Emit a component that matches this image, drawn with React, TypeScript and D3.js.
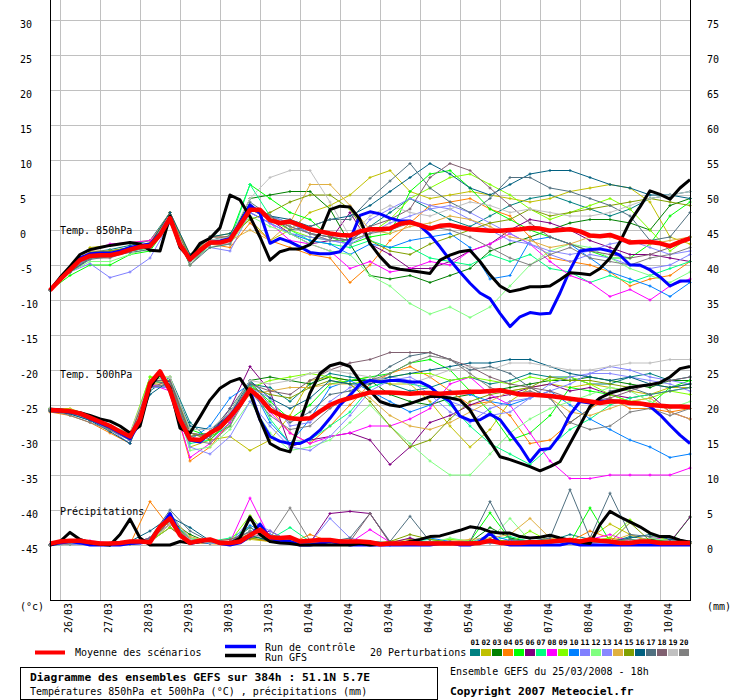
import * as d3 from "d3"

// 6-hourly series from 25/03 18h to +384h (65 values)
const mean850 = [
  -8.6, -7.1, -5.7, -4.3, -3.7, -3.6, -3.6, -3.3, -2.8, -2.4,
  -2.3, -0.7, 1.7, -2.1, -4.2, -2.9, -1.8, -1.8, -1.4, 0.7,
  2.9, 2.9, 1.4, 1.0, 1.2, 0.7, 0.1, -0.2, -0.5, -0.7,
  -0.8, -0.2, 0.1, 0.1, 0.2, 0.9, 1.1, 0.7, 0.2, 0.6,
  0.7, 0.4, 0.1, 0, -0.1, -0.1, 0, 0.1, 0.3, 0.2,
  -0.1, 0, 0.1, -0.2, -0.8, -0.9, -0.7, -1.2, -1.8, -1.7,
  -1.7, -1.9, -2.3, -1.7, -1.2,
]
const ctrl850 = [
  -8.6, -7.0, -5.5, -4.0, -3.4, -3.3, -3.3, -3.0, -2.5, -2.2,
  -2.0, -0.5, 1.8, -2.0, -4.3, -3.0, -1.8, -1.6, -1.2, 1.0,
  3.6, 2.4, -1.9, -1.2, -1.7, -2.4, -3.2, -3.4, -3.4, -3.1,
  -1.4, 2.1, 2.6, 2.3, 1.7, 1.3, 1.3, 0.6, -0.7, -2.4,
  -4.3, -6.0, -7.6, -9.0, -9.8, -11.9, -13.8, -12.4, -11.8, -12.0,
  -11.9, -9.0, -5.7, -3.0, -2.8, -2.7, -3.0, -3.6, -5.0, -5.0,
  -5.7, -6.7, -8.0, -7.3, -7.3,
]
const gfs850 = [
  -8.6, -6.8, -5.2, -3.5, -2.8, -2.5, -2.2, -2.0, -1.8, -2.0,
  -2.9, -3.0, 2.0, -2.5, -4.0, -1.9, -1.2, 0.3, 5.0, 4.3,
  1.9, -1.0, -4.3, -3.1, -2.7, -2.7, -2.1, -0.5, 2.9, 3.4,
  3.3, 1.5, -1.9, -3.8, -5.3, -5.6, -5.8, -6.0, -6.2, -4.3,
  -3.6, -3.1, -2.9, -4.5, -6.4, -8.0, -8.8, -8.5, -8.1, -8.1,
  -8.0, -7.1, -6.1, -6.2, -6.4, -5.5, -4.0, -1.7, 1.2, 3.3,
  5.6, 5.1, 4.4, 6.0, 7.2,
]
const mean500 = [
  -25.7, -25.8, -25.9, -26.2, -26.8, -27.4, -28.0, -28.8, -29.5, -27.1,
  -21.9, -20.2, -22.9, -27.1, -29.9, -30.0, -29.0, -28.2, -26.7, -25.0,
  -22.8, -24.0, -25.7, -26.4, -26.9, -27.0, -26.9, -25.9, -25.0, -24.4,
  -24.0, -23.6, -23.2, -23.2, -23.2, -23.3, -23.4, -23.3, -23.3, -23.4,
  -23.3, -23.2, -23.1, -23.1, -23.0, -22.9, -23.2, -23.5, -23.5, -23.6,
  -23.7, -23.9, -24.1, -24.3, -24.5, -24.7, -24.5, -24.5, -24.7, -24.8,
  -25.0, -25.1, -25.2, -25.2, -25.3,
]
const ctrl500 = [
  -25.8, -25.9, -26.0, -26.3, -26.9, -27.6, -28.2, -29.0, -29.8, -27.5,
  -22.0, -20.5, -23.0, -27.5, -30.0, -30.3, -29.0, -28.0, -26.5, -24.8,
  -22.9, -27.1, -29.5, -30.2, -30.5, -30.5, -29.8, -28.6, -26.9, -25.0,
  -23.6, -22.0, -21.5, -21.7, -21.5, -21.5, -21.7, -21.7, -22.4, -23.6,
  -24.5, -26.6, -27.2, -27.1, -26.3, -27.1, -29.0, -30.9, -33.1, -31.4,
  -31.2, -29.3, -26.4, -24.5, -24.7, -24.5, -24.4, -24.5, -24.7, -24.8,
  -25.2, -26.4, -27.9, -29.3, -30.5,
]
const gfs500 = [
  -25.6, -25.7, -25.9, -26.1, -26.5, -27.0, -27.3, -28.0, -29.0, -28.0,
  -22.5, -20.5, -22.5, -28.3, -29.0, -26.7, -24.3, -22.6, -21.7, -21.2,
  -23.3, -27.1, -30.5, -31.3, -31.7, -27.4, -23.3, -20.5, -19.4, -19.0,
  -19.5, -21.6, -23.0, -24.5, -25.0, -25.2, -24.8, -24.3, -23.8, -23.8,
  -24.0, -24.3, -25.7, -28.1, -30.2, -32.4, -32.8, -33.3, -33.8, -34.4,
  -33.8, -33.1, -30.5, -27.9, -25.2, -24.0, -23.3, -22.9, -22.5, -22.3,
  -22.1, -21.8, -21.0, -19.8, -19.5,
]
const meanPrecip = [
  0.2, 0.5, 0.6, 0.6, 0.4, 0.2, 0.2, 0.3, 0.5, 0.5,
  0.4, 2.6, 3.8, 1.4, 0.3, 0.6, 0.8, 0.3, 0.3, 0.5,
  1.4, 2.2, 1.1, 1.0, 1.1, 0.5, 0.6, 0.7, 0.7, 0.5,
  0.5, 0.5, 0.4, 0.1, 0.2, 0.2, 0.3, 0.2, 0.2, 0.2,
  0.2, 0.2, 0.2, 0.3, 0.6, 0.3, 0.3, 0.3, 0.4, 0.4,
  0.5, 0.6, 0.7, 0.5, 0.8, 0.6, 0.5, 0.3, 0.3, 0.5,
  0.5, 0.3, 0.3, 0.3, 0.3,
]
const ctrlPrecip = [
  0, 0.3, 0.5, 0.3, 0, 0, 0, 0, 0.2, 0.3,
  0.5, 2.5, 4.5, 1.5, 0.2, 0.5, 0.8, 0.2, 0, 0.3,
  1.2, 3.0, 1.0, 0.5, 0.5, 0, 0, 0.2, 0.5, 0.3,
  0, 0, 0, 0, 0, 0, 0, 0, 0, 0.2,
  0.3, 0, 0, 0.5, 1.7, 0.3, 0, 0, 0, 0,
  0, 0, 0.3, 0, 0, 0, 0, 0, 0, 0,
  0, 0, 0, 0, 0,
]
const gfsPrecip = [
  0, 0.5, 1.8, 0.8, 0.3, 0.1, 0, 1.5, 3.7, 1.0,
  0, 0, 0, 0.5, 0.3, 0.5, 0.8, 0.3, 0.2, 1.0,
  4.0, 1.5, 0.5, 0.3, 0.2, 0, 0, 0, 0, 0,
  0, 0.2, 0, 0.1, 0.2, 0.2, 0.5, 0.8, 1.2, 1.3,
  1.7, 2.1, 2.6, 2.4, 1.9, 1.7, 1.7, 1.2, 1.0, 1.1,
  1.4, 1.0, 0.7, 0.4, 0.2, 2.9, 4.8, 4.0, 3.3, 2.6,
  1.7, 1.2, 1.2, 0.7, 0.4,
]

// 12-hourly perturbation members 01..20 (33 values each)
const members850 = [
  [-8.6, -5.5, -3.2, -2.8, -2.2, -1.5, 2.5, -3.8, -1.5, -0.8, 3.5, 2.0, 1.0, -0.5, -1.0, -1.5, 0.5, 2.5, 4.5, 3.0, 1.5, 0.5, 2.0, 3.5, 4.5, 5.0, 4.0, 3.0, 2.0, 3.0, 4.5, 5.0, 5.5],
  [-8.6, -5.8, -2.5, -2.2, -1.8, -1.5, 2.0, -3.5, -1.0, -0.5, 1.5, -1.5, 0, 2.5, 3.5, 5.0, 7.5, 8.5, 5.5, 4.5, 5.0, 5.5, 5.0, 4.5, 4.0, 4.5, 5.5, 6.0, 6.5, 6.0, 4.0, -1.0, -2.0],
  [-8.6, -6.0, -4.0, -3.8, -3.0, -2.5, 1.5, -4.0, -1.5, -1.5, 4.5, 5.0, 5.5, 5.5, 3.0, -2.0, -6.5, -7.0, -6.5, -7.5, -6.5, -5.5, -3.0, -2.0, -1.0, 0, 1.0, 1.5, 1.5, 1.0, 0, 3.5, 4.5],
  [-8.6, -5.5, -3.5, -3.5, -2.5, -2.0, 2.5, -4.5, -2.0, -2.5, 1.0, -1.5, -2.5, -3.5, -4.0, -7.5, -5.0, -1.5, 1.0, 3.5, 4.0, 4.5, 3.0, 2.0, -1.0, -4.0, -4.5, -5.0, -6.0, -8.0, -7.0, -6.5, -4.5],
  [-8.6, -6.5, -5.0, -5.0, -3.5, -3.0, 1.0, -5.0, -2.0, -1.0, 6.5, 4.5, 2.5, 1.5, -1.0, -2.0, -1.0, -0.5, 5.5, 8.0, 8.5, 6.0, 3.0, 1.5, 0, -1.0, -2.0, -3.0, -4.0, -4.0, -2.0, 2.0, 4.0],
  [-8.6, -5.8, -3.6, -3.8, -2.8, -2.5, 1.5, -4.5, -2.0, -1.0, 3.0, 1.5, -0.5, -2.0, -1.5, 2.5, -2.0, -3.5, -5.5, -5.5, -4.5, -3.0, -2.0, 0, 1.5, 1.0, 0, -1.5, -2.5, -3.5, -3.5, -4.0, -4.5],
  [-8.6, -5.8, -4.0, -3.5, -3.0, -2.5, 2.0, -4.0, -2.0, -1.5, 6.5, 2.0, 0, -1.5, -2.0, -2.5, -1.5, -2.5, -2.5, -4.0, -4.5, -5.0, -3.5, -4.5, -3.5, -5.5, -6.0, -7.5, -6.5, -7.5, -6.5, -5.5, -4.5],
  [-8.6, -5.5, -3.0, -2.0, -1.8, -1.5, 2.0, -4.0, -1.0, -1.0, 2.5, 1.0, -1.5, -2.0, -3.0, -5.5, -4.5, -6.0, -5.5, -4.5, -5.0, -3.0, -2.0, -0.5, -2.0, -4.5, -6.5, -7.5, -9.5, -8.5, -10.0, -8.0, -7.0],
  [-8.6, -5.5, -3.5, -3.0, -2.5, -2.0, 2.0, -4.5, -1.5, -1.0, 3.5, 1.5, 0, -1.0, -1.5, -1.5, -0.5, 1.5, 4.5, 6.0, 7.5, 8.0, 6.5, 5.0, 3.0, 1.5, 2.5, 3.5, 4.5, 3.0, 0, -3.0, -1.0],
  [-8.6, -5.8, -3.8, -3.5, -2.8, -2.5, 1.0, -4.0, -2.0, -1.5, 2.5, 1.0, -0.5, -1.5, -2.0, -3.5, -2.0, -2.5, -1.5, -1.0, -0.5, -2.5, -7.0, -6.5, -1.5, -1.0, -2.0, -4.0, -6.0, -7.0, -8.0, -9.5, -7.5],
  [-8.6, -6.0, -4.8, -6.8, -6.0, -4.0, 1.0, -4.5, -2.5, -3.0, 2.5, 1.0, -0.5, -1.0, -1.5, -2.0, 1.5, 3.0, 4.5, 3.5, 3.0, 1.5, 0, -1.5, -2.0, -3.5, -4.5, -3.5, -4.0, -5.0, -5.5, -5.0, -3.5],
  [-8.6, -6.0, -4.5, -4.5, -3.5, -2.5, 1.5, -4.5, -2.5, -2.0, 2.0, 0.5, -0.5, -2.0, -3.0, -3.5, -6.5, -8.0, -10.5, -12.0, -11.0, -12.5, -11.0, -8.0, -5.0, -3.0, -2.0, -2.5, -4.0, -5.5, -6.5, -7.5, -6.0],
  [-8.6, -5.8, -3.5, -3.3, -2.6, -2.0, 1.5, -4.0, -1.5, -1.0, 3.5, 2.0, 1.0, -0.5, -1.5, -2.0, -0.5, 1.0, 2.0, 3.0, 3.5, 2.5, 1.0, -0.5, -2.0, -3.0, -3.5, -3.0, -2.0, -1.5, -2.5, -3.5, -3.0],
  [-8.6, -5.5, -3.0, -3.0, -2.5, -1.8, 2.5, -3.5, -1.5, -1.5, 0, -1.5, 1.0, 6.5, 6.5, 3.5, 0, -0.5, 0.5, 1.0, 2.0, 1.5, 0.5, -1.0, -1.5, -2.5, -2.0, -1.0, -1.0, -1.5, -2.0, -1.5, -1.0],
  [-8.6, -5.5, -3.2, -3.0, -2.5, -2.0, 2.0, -4.0, -1.0, -1.0, 1.5, 2.5, 4.0, 5.0, 5.0, 3.0, -1.5, -3.0, -3.5, -2.0, -1.0, 0, 1.0, 1.5, 3.0, 2.0, 2.5, 3.0, 3.5, 4.0, 4.5, 4.0, 3.5],
  [-8.6, -6.0, -4.0, -3.5, -3.0, -2.0, 2.5, -3.5, -1.0, -0.5, 3.5, 2.0, 1.5, 0.5, 1.5, 2.0, 3.5, 5.5, 7.5, 9.5, 8.0, 6.0, 5.0, 6.5, 8.0, 8.5, 8.5, 7.5, 6.5, 6.0, 5.0, 5.0, 4.5],
  [-8.6, -6.0, -4.2, -3.8, -3.2, -2.8, 1.5, -5.0, -2.5, -2.0, 4.0, 2.0, 0, 0.5, 1.5, 1.5, 4.5, 7.0, 9.5, 6.0, 4.0, 2.5, 4.5, 7.5, 7.5, 6.0, 5.5, 4.5, 3.5, 2.0, -1.5, -1.0, 2.5],
  [-8.6, -5.7, -3.5, -3.5, -2.8, -2.2, 1.8, -4.2, -1.8, -1.2, 3.0, 1.5, 0.5, -0.5, -1.0, -1.5, 0.5, 1.5, 3.0, 7.5, 9.5, 8.5, 6.0, 3.5, 1.0, -1.0, -2.0, -3.0, -3.5, -4.0, -3.5, -2.5, -1.0],
  [-8.6, -5.8, -3.6, -3.4, -2.6, -2.2, 2.0, -4.5, -1.5, -1.0, 4.5, 7.5, 8.5, 8.5, 4.0, -1.0, 2.0, 3.5, 2.5, 2.0, 3.0, 4.0, 3.5, 2.5, 3.0, 2.5, 2.0, 2.0, 2.5, 3.5, 4.5, 5.0, 5.5],
  [-8.6, -5.8, -4.0, -4.0, -3.0, -2.5, 1.5, -5.0, -2.0, -2.0, 3.0, 2.0, 0.5, -0.5, -1.5, -1.5, -0.5, 0, 1.0, 0.5, 0, -1.0, -2.5, -4.0, -5.0, -3.5, -2.5, -4.0, -4.5, -5.0, -4.0, -3.5, -2.5],
]
const members500 = [
  [-25.5, -26.0, -27.0, -28.5, -30.0, -23.0, -21.0, -27.5, -30.0, -27.0, -22.0, -22.5, -24.5, -22.0, -20.5, -21.0, -21.5, -22.0, -23.0, -22.5, -21.5, -21.0, -22.0, -21.5, -20.5, -21.0, -21.0, -22.0, -22.0, -21.0, -20.5, -21.5, -21.0],
  [-25.5, -25.5, -26.5, -28.0, -29.5, -22.0, -21.5, -31.0, -30.0, -29.5, -31.5, -30.0, -26.5, -21.5, -21.0, -21.5, -21.0, -22.0, -22.0, -24.5, -28.0, -31.0, -28.5, -24.5, -22.5, -22.0, -22.5, -22.0, -22.5, -23.0, -23.5, -22.5, -22.5],
  [-25.8, -26.0, -27.0, -28.5, -29.0, -22.5, -22.0, -29.5, -29.0, -26.0, -21.5, -21.0, -21.5, -22.0, -21.0, -21.5, -21.5, -23.5, -24.5, -25.0, -24.0, -23.5, -23.0, -22.5, -22.0, -21.5, -21.5, -21.0, -21.5, -22.0, -22.5, -21.5, -21.5],
  [-26.0, -26.5, -27.5, -29.0, -30.5, -22.0, -22.5, -33.0, -31.0, -27.5, -23.0, -25.5, -29.0, -30.5, -28.0, -25.0, -22.0, -20.5, -19.5, -21.0, -23.0, -25.0, -24.5, -26.5, -30.5, -30.0, -27.5, -25.5, -24.0, -25.5, -25.5, -26.0, -25.5],
  [-25.5, -25.8, -26.5, -28.0, -29.5, -21.0, -21.5, -28.5, -29.5, -28.0, -22.0, -24.5, -27.0, -25.0, -22.0, -21.5, -21.0, -20.5, -19.0, -18.5, -20.0, -23.0, -26.0, -30.0, -29.0, -26.5, -22.5, -23.0, -23.5, -24.5, -25.0, -22.5, -21.5],
  [-25.8, -26.2, -27.0, -28.5, -29.5, -22.5, -21.5, -29.0, -29.5, -25.5, -19.5, -23.0, -31.0, -30.0, -29.5, -29.0, -30.0, -33.5, -31.0, -27.5, -26.5, -25.0, -24.0, -23.5, -22.5, -22.0, -23.0, -22.5, -23.5, -24.0, -23.5, -26.0, -27.0],
  [-25.7, -26.0, -27.0, -28.5, -30.0, -21.5, -22.0, -30.5, -30.0, -27.5, -21.5, -27.0, -30.5, -30.0, -28.0, -26.0, -22.5, -21.5, -22.0, -22.5, -25.0, -28.0, -30.5, -32.0, -33.5, -31.0, -28.5, -27.0, -25.0, -24.0, -23.5, -23.0, -22.5],
  [-25.7, -26.0, -27.0, -28.5, -30.0, -22.0, -23.0, -32.5, -30.5, -27.5, -23.0, -26.0, -29.0, -30.5, -29.5, -29.0, -28.0, -28.0, -27.0, -25.5, -22.0, -21.0, -23.5, -25.0, -29.0, -33.0, -35.5, -35.5, -35.0, -35.0, -35.0, -35.0, -34.0],
  [-25.5, -26.0, -26.8, -28.0, -29.0, -21.0, -21.0, -29.0, -29.5, -26.0, -22.5, -21.5, -21.0, -20.5, -21.0, -22.0, -21.5, -21.0, -20.5, -20.5, -21.5, -21.0, -21.5, -22.0, -21.0, -21.5, -21.0, -22.0, -23.5, -24.5, -24.0, -23.0, -23.5],
  [-25.8, -26.2, -27.2, -28.5, -30.0, -22.5, -22.0, -30.0, -28.0, -24.0, -22.0, -27.5, -30.5, -27.0, -22.5, -21.5, -23.0, -24.5, -26.0, -25.0, -23.0, -23.5, -24.5, -25.0, -24.0, -23.0, -25.0, -27.0, -28.5, -30.0, -31.0, -32.5, -32.0],
  [-25.6, -26.0, -27.2, -28.5, -30.5, -22.5, -22.5, -30.0, -29.5, -26.0, -22.5, -24.0, -28.0, -27.5, -24.5, -22.5, -21.5, -21.0, -21.5, -23.5, -26.0, -27.5, -25.5, -24.5, -24.0, -23.0, -22.0, -20.5, -19.5, -20.0, -21.0, -21.5, -22.0],
  [-25.6, -26.0, -27.0, -28.5, -29.5, -21.5, -22.0, -31.5, -31.0, -28.5, -24.5, -29.0, -31.5, -31.0, -30.0, -27.5, -25.0, -28.0, -30.5, -33.0, -35.0, -35.0, -32.0, -29.0, -27.0, -25.5, -24.5, -23.5, -22.5, -23.0, -24.5, -25.5, -24.5],
  [-25.7, -26.0, -26.8, -28.5, -29.5, -22.0, -22.5, -31.0, -32.0, -29.5, -24.5, -28.0, -31.0, -31.5, -29.5, -26.5, -23.0, -21.5, -21.0, -22.5, -24.5, -25.5, -26.5, -26.0, -24.0, -22.0, -21.0, -20.5, -20.5, -21.0, -21.5, -22.0, -23.0],
  [-25.7, -26.1, -27.0, -28.4, -29.6, -22.0, -22.0, -29.5, -29.0, -27.0, -23.5, -23.0, -22.5, -22.5, -22.0, -22.0, -24.0, -26.5, -28.0, -28.5, -27.5, -26.0, -24.5, -23.0, -22.5, -24.0, -26.0, -26.5, -25.5, -24.5, -24.0, -26.0, -27.0],
  [-25.8, -26.0, -27.0, -28.4, -29.4, -21.5, -21.5, -29.0, -30.0, -27.0, -22.5, -23.5, -24.0, -22.5, -21.5, -22.0, -24.5, -28.0, -31.0, -30.0, -27.0, -24.5, -23.5, -23.0, -22.5, -21.0, -21.5, -21.5, -22.0, -22.5, -22.0, -22.5, -22.0],
  [-25.9, -26.3, -27.2, -28.8, -30.5, -23.5, -21.5, -28.0, -28.5, -26.5, -21.5, -24.0, -25.5, -24.0, -21.5, -22.0, -22.0, -21.0, -20.5, -20.0, -19.5, -19.0, -19.0, -18.5, -18.5, -19.5, -20.5, -21.0, -21.5, -21.0, -22.0, -22.5, -22.0],
  [-25.7, -26.0, -27.0, -28.5, -29.5, -21.5, -22.0, -29.5, -29.0, -25.5, -21.5, -25.0, -27.5, -26.0, -23.5, -23.0, -21.5, -19.5, -18.0, -17.5, -18.5, -20.0, -19.5, -20.5, -22.5, -24.0, -27.5, -25.5, -23.0, -22.5, -23.5, -23.0, -22.5],
  [-25.6, -26.0, -26.8, -28.2, -29.3, -21.5, -21.5, -29.0, -29.5, -26.5, -22.0, -23.0, -23.5, -21.5, -20.0, -19.0, -18.5, -17.5, -17.5, -17.5, -18.5, -19.5, -21.0, -22.0, -22.5, -23.0, -24.0, -24.5, -24.0, -23.0, -22.0, -21.5, -21.0],
  [-25.4, -25.7, -26.5, -28.0, -29.0, -21.5, -21.0, -28.5, -28.5, -26.0, -21.5, -22.0, -21.5, -20.5, -20.0, -20.5, -21.0, -21.5, -22.0, -21.0, -20.0, -19.5, -20.0, -19.0, -19.0, -19.5, -20.0, -20.0, -19.5, -19.0, -19.0, -18.5, -18.5],
  [-25.7, -26.5, -27.5, -28.6, -30.0, -22.5, -22.0, -30.0, -30.5, -28.0, -23.0, -26.5, -28.5, -28.0, -25.5, -23.5, -21.5, -20.5, -19.0, -18.0, -18.5, -20.5, -22.5, -23.5, -23.0, -24.0, -27.5, -28.5, -28.0, -26.0, -25.5, -26.5, -25.5],
]
const membersPrecip = [
  [0, 0.4, 0.3, 0.1, 0.2, 0.5, 3.5, 0.3, 0.6, 0.2, 1.5, 0.6, 0.4, 0.2, 0.3, 0.5, 0.2, 0, 0.3, 0.4, 0.2, 0.5, 0.3, 0.2, 0.3, 0.6, 1.5, 0.8, 0.4, 1.2, 0.8, 0.3, 0.2],
  [0, 0.2, 0.2, 0, 0.1, 0.3, 3.0, 0.5, 0.2, 0.1, 0.8, 0.5, 0.3, 0.4, 0.3, 0.2, 0.1, 0.5, 0.8, 0.2, 0.6, 0.3, 0.8, 0.5, 0.3, 0.5, 0.4, 1.0, 3.0, 1.5, 0.5, 0.8, 0.5],
  [0, 0.3, 0.1, 0.1, 0.2, 1.0, 3.5, 1.5, 0.3, 0.5, 1.2, 0.8, 0.5, 0.3, 0.2, 0.3, 0.2, 0.2, 0.4, 0.3, 0.2, 0.4, 2.5, 1.0, 0.5, 0.8, 0.6, 0.4, 0.5, 0.3, 0.8, 0.5, 0.4],
  [0, 0.2, 0.3, 0.1, 0.1, 6.2, 2.5, 0.3, 0.2, 0.1, 1.0, 0.5, 0.2, 1.5, 0.5, 0.3, 0.2, 0.3, 0.2, 0.5, 0.3, 0.2, 0.4, 0.6, 0.2, 0.3, 0.5, 2.0, 1.0, 0.5, 0.4, 0.3, 0.2],
  [0, 0.1, 0.2, 0, 0.2, 0.8, 4.5, 0.8, 0.5, 0.3, 2.0, 1.5, 0.8, 0.4, 0.3, 0.2, 0.5, 0.2, 0.1, 0.4, 0.3, 0.5, 4.6, 0.8, 0.5, 0.6, 0.3, 5.3, 0.5, 0.8, 0.4, 0.3, 4.0],
  [0, 0.2, 0.2, 0.1, 0.1, 0.5, 2.5, 0.5, 0.3, 0.2, 1.0, 2.0, 0.5, 0.3, 4.5, 4.8, 4.5, 0.3, 1.0, 0.2, 0.5, 0.3, 0.5, 0.4, 0.3, 0.6, 0.5, 0.3, 0.4, 0.2, 0.5, 0.4, 4.0],
  [0, 0.3, 0.2, 0.1, 0.1, 0.6, 3.5, 1.0, 0.5, 1.0, 2.5, 0.8, 2.5, 0.5, 0.3, 0.2, 0.2, 0.3, 0.5, 0.8, 0.4, 0.3, 0.6, 1.2, 0.5, 0.8, 0.3, 1.0, 0.5, 0.3, 0.5, 0.6, 0.5],
  [0, 0.3, 0.6, 0.3, 0.2, 1.0, 3.0, 0.5, 0.8, 0.4, 6.7, 1.0, 0.5, 0.3, 0.5, 0.3, 2.2, 0.4, 0.3, 0.5, 0.2, 0.3, 0.4, 0.6, 0.5, 0.8, 0.5, 0.8, 1.5, 0.5, 1.0, 0.8, 0.5],
  [0, 0.2, 0.2, 0.1, 0.1, 0.5, 2.5, 0.8, 0.3, 0.5, 4.2, 1.0, 0.5, 0.3, 0.2, 0.4, 0.2, 0.3, 0.2, 0.5, 0.8, 0.6, 0.4, 0.3, 2.0, 0.5, 0.8, 0.6, 1.0, 3.6, 1.5, 0.6, 0.4],
  [0, 0.2, 0.1, 0, 0.1, 0.8, 4.0, 0.5, 0.2, 0.3, 2.8, 1.5, 0.4, 0.3, 0.2, 0.3, 0.1, 0.2, 0.4, 1.0, 0.5, 0.3, 1.5, 0.6, 0.4, 0.5, 0.8, 0.5, 0.6, 0.3, 0.4, 0.2, 0.3],
  [0, 0.1, 0.1, 0, 0.2, 0.6, 3.5, 0.6, 0.4, 0.3, 3.5, 2.0, 0.5, 0.3, 3.8, 1.0, 0.3, 0.2, 0.5, 0.3, 0.4, 0.2, 0.3, 0.5, 0.4, 0.3, 0.5, 0.4, 0.6, 0.4, 0.3, 0.2, 0.4],
  [0, 0.2, 0.3, 0.1, 0.2, 0.5, 3.0, 1.0, 0.5, 0.2, 2.5, 0.8, 0.6, 0.4, 0.3, 0.2, 0.5, 0.3, 0.4, 0.3, 1.0, 0.5, 0.8, 3.8, 0.6, 0.8, 0.5, 0.6, 0.3, 0.5, 1.0, 0.6, 0.4],
  [0, 0.2, 0.2, 0.1, 0.2, 0.7, 4.5, 0.8, 0.3, 0.5, 2.0, 1.5, 0.3, 0.2, 0.3, 0.5, 0.3, 0.2, 0.3, 0.2, 0.4, 0.3, 0.5, 0.4, 0.3, 0.6, 0.4, 0.3, 0.5, 0.3, 0.4, 0.6, 0.3],
  [0, 0.3, 0.2, 0.1, 0.1, 0.8, 4.0, 1.2, 0.5, 0.8, 1.5, 0.8, 0.5, 0.3, 0.4, 0.6, 0.3, 0.2, 0.4, 0.3, 0.5, 0.8, 1.0, 1.5, 3.8, 1.0, 0.5, 0.8, 0.5, 1.5, 0.6, 0.4, 0.3],
  [0, 0.2, 0.3, 0.1, 0.1, 0.5, 3.5, 0.8, 0.5, 0.3, 1.0, 0.6, 0.3, 0.4, 0.5, 0.3, 0.2, 0.5, 1.5, 0.8, 0.4, 0.3, 0.8, 0.5, 0.4, 0.3, 0.6, 0.5, 0.4, 3.2, 0.6, 0.5, 0.3],
  [0, 0.3, 0.4, 0.2, 0.5, 2.0, 4.0, 2.5, 0.6, 0.3, 1.5, 0.5, 0.4, 0.3, 0.4, 0.6, 0.5, 0.3, 0.4, 0.5, 0.3, 0.4, 0.5, 0.3, 0.6, 0.5, 0.4, 0.8, 0.5, 1.0, 1.5, 0.8, 0.5],
  [0, 0.2, 0.3, 0.1, 0.2, 1.0, 5.0, 2.0, 0.5, 0.4, 2.5, 1.0, 0.8, 0.5, 0.5, 1.0, 4.5, 0.5, 4.1, 0.5, 0.3, 0.5, 6.2, 0.8, 0.5, 1.0, 7.9, 1.0, 7.4, 1.5, 1.2, 1.0, 0.5],
  [0, 0.2, 0.3, 0.2, 0.3, 0.8, 3.0, 0.8, 0.5, 0.8, 1.8, 1.2, 0.5, 0.4, 0.3, 0.5, 4.5, 0.3, 0.4, 0.5, 0.3, 0.4, 0.5, 0.3, 0.6, 0.4, 0.5, 0.3, 0.4, 0.5, 0.6, 0.4, 0.3],
  [0, 0.2, 0.2, 0.1, 0.1, 0.6, 3.0, 0.8, 0.3, 0.2, 1.5, 0.8, 0.4, 0.3, 0.2, 0.4, 0.3, 0.2, 0.3, 0.4, 0.3, 0.2, 0.4, 0.5, 0.3, 0.4, 0.3, 0.5, 0.4, 0.6, 0.3, 0.2, 0.4],
  [0, 0.3, 0.2, 0.1, 0.2, 0.8, 3.5, 0.6, 0.4, 0.3, 2.0, 1.0, 5.3, 0.6, 0.4, 0.3, 0.5, 0.3, 0.4, 0.3, 0.5, 0.4, 0.3, 0.5, 0.4, 0.3, 0.6, 0.4, 0.5, 0.8, 0.4, 0.3, 0.5],
]

const memberIds = ["01", "02", "03", "04", "05", "06", "07", "08", "09", "10", "11", "12", "13", "14", "15", "16", "17", "18", "19", "20"]
const memberColors = [
  "#008080", "#c0c000", "#008000", "#ff8000", "#00ff00", "#800080", "#00ff80", "#ff00ff", "#80ff00", "#0080ff",
  "#8080ff", "#80ff80", "#8888ff", "#e0b040", "#80a000", "#006080", "#507080", "#806070", "#c0c0c0", "#808080",
]
const dayLabels = ["26/03", "27/03", "28/03", "29/03", "30/03", "31/03", "01/04", "02/04", "03/04", "04/04", "05/04", "06/04", "07/04", "08/04", "09/04", "10/04"]
const leftTicks = [30, 25, 20, 15, 10, 5, 0, -5, -10, -15, -20, -25, -30, -35, -40, -45]
const rightTicks = [75, 70, 65, 60, 55, 50, 45, 40, 35, 30, 25, 20, 15, 10, 5, 0]

const FONT = "'DejaVu Sans Mono', monospace"

export default function App() {
  const x = d3.scaleLinear().domain([0, 384]).range([50, 690])
  const yT = d3.scaleLinear().domain([-45, 30]).range([545, 20])
  const yP = d3.scaleLinear().domain([0, 75]).range([545, 20])

  const path6 = (vals: number[], y: d3.ScaleLinear<number, number>) =>
    d3.line<number>().x((_, i) => x(i * 6)).y((d) => y(d))(vals) || ""
  const path12 = (vals: number[], y: d3.ScaleLinear<number, number>) =>
    d3.line<number>().x((_, j) => x(j * 12)).y((d) => y(d))(vals) || ""
  const marks12 = (vals: number[], y: d3.ScaleLinear<number, number>) =>
    vals
      .map((d, j) => {
        const px = x(j * 12)
        const py = y(d)
        return `M${px - 1.5},${py}h3M${px},${py - 1.5}v3`
      })
      .join("")

  const panels = [
    { members: members850, mean: mean850, ctrl: ctrl850, gfs: gfs850, y: yT },
    { members: members500, mean: mean500, ctrl: ctrl500, gfs: gfs500, y: yT },
    { members: membersPrecip, mean: meanPrecip, ctrl: ctrlPrecip, gfs: gfsPrecip, y: yP },
  ]

  const dayX = dayLabels.map((_, k) => x(6 + 24 * k))

  return (
    <svg width={740} height={700} style={{ position: "absolute", left: 0, top: 0, background: "#fff" }} fontFamily={FONT}>
      <rect x={0} y={0} width={740} height={700} fill="#fff" />

      {/* grid */}
      {leftTicks.map((v) => (
        <line key={"h" + v} x1={50} x2={690} y1={yT(v) + 0.5} y2={yT(v) + 0.5} stroke="#c0c0c0" />
      ))}
      {dayX.map((gx, k) => (
        <line key={"v" + k} x1={gx + 0.5} x2={gx + 0.5} y1={0} y2={600} stroke="#c0c0c0" />
      ))}

      {/* panel labels */}
      <text x={60} y={234} fontSize={10}>Temp. 850hPa</text>
      <text x={60} y={378} fontSize={10}>Temp. 500hPa</text>
      <text x={60} y={515} fontSize={10}>Précipitations</text>

      {/* perturbations */}
      {panels.map((p, pi) => (
        <g key={"m" + pi}>
          {p.members.map((m, k) => (
            <g key={k} stroke={memberColors[k]} fill="none">
              <path d={path12(m, p.y)} strokeWidth={1} />
              <path d={marks12(m, p.y)} strokeWidth={1} />
            </g>
          ))}
        </g>
      ))}

      {/* control, GFS, mean */}
      {panels.map((p, pi) => (
        <g key={"r" + pi} fill="none" strokeLinejoin="round">
          <path d={path6(p.ctrl, p.y)} stroke="#0000ff" strokeWidth={3} />
          <path d={path6(p.gfs, p.y)} stroke="#000000" strokeWidth={3} />
          <path d={path6(p.mean, p.y)} stroke="#ff0000" strokeWidth={4.5} />
        </g>
      ))}

      {/* axes */}
      <line x1={50.5} x2={50.5} y1={0} y2={600} stroke="#000" />
      <line x1={690.5} x2={690.5} y1={0} y2={600} stroke="#000" />
      <line x1={50} x2={691} y1={600.5} y2={600.5} stroke="#000" />

      {leftTicks.map((v) => (
        <text key={"l" + v} x={20} y={yT(v) + 7.5} fontSize={10}>{v}</text>
      ))}
      {rightTicks.map((v) => (
        <text key={"r" + v} x={707} y={yP(v) + 7.5} fontSize={10}>{v}</text>
      ))}
      <text x={20} y={610} fontSize={10}>(°c)</text>
      <text x={707} y={610} fontSize={10}>(mm)</text>

      {dayLabels.map((d, k) => (
        <text key={d} transform={`translate(${dayX[k] + 12},603) rotate(-90)`} textAnchor="end" fontSize={10}>
          {d}
        </text>
      ))}

      {/* legend */}
      <line x1={35} x2={65} y1={652.5} y2={652.5} stroke="#ff0000" strokeWidth={4} />
      <text x={75} y={656} fontSize={10}>Moyenne des scénarios</text>
      <line x1={225} x2={256} y1={646.5} y2={646.5} stroke="#0000ff" strokeWidth={3.5} />
      <line x1={225} x2={256} y1={655.5} y2={655.5} stroke="#000000" strokeWidth={3.5} />
      <text x={265} y={651} fontSize={10}>Run de contrôle</text>
      <text x={265} y={661} fontSize={10}>Run GFS</text>
      <text x={370} y={656} fontSize={10}>20 Perturbations</text>
      {memberIds.map((id, k) => (
        <g key={id}>
          <text x={470 + k * 11 + 5} y={645} fontSize={7.5} fontWeight="bold" textAnchor="middle">{id}</text>
          <rect x={470 + k * 11} y={649} width={10} height={7} fill={memberColors[k]} />
        </g>
      ))}

      <rect x={20.5} y={667.5} width={417} height={32} fill="none" stroke="#000" />
      <text x={30} y={681} fontSize={11.3} fontWeight="bold">Diagramme des ensembles GEFS sur 384h : 51.1N 5.7E</text>
      <text x={30} y={695} fontSize={10}>Températures 850hPa et 500hPa (°C) , précipitations (mm)</text>
      <text x={450} y={675} fontSize={10}>Ensemble GEFS du 25/03/2008 - 18h</text>
      <text x={450} y={695} fontSize={11.3} fontWeight="bold">Copyright 2007 Meteociel.fr</text>
    </svg>
  )
}
